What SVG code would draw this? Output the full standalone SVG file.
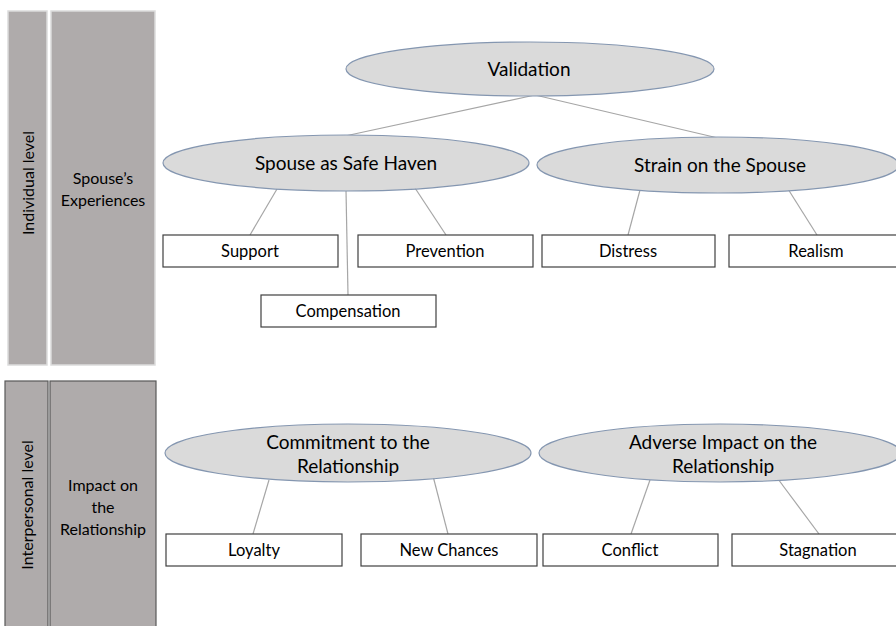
<svg xmlns="http://www.w3.org/2000/svg" width="896" height="626" viewBox="0 0 896 626">
<style>
.panelTop{fill:#afabab;stroke:#dcdcdc;stroke-width:1.5}
.panelBot{fill:#afabab;stroke:#595959;stroke-width:1.2}
.ell{fill:#dadada;stroke:#8496b0;stroke-width:1.2}
.box{fill:#ffffff;stroke:#404040;stroke-width:1.2}
.con{stroke:#a6a6a6;stroke-width:1.2;fill:none}
text{font-family:Lato,"Liberation Sans",sans-serif;fill:#000000;text-anchor:middle}
.t-ell{font-size:19px}
.t-box{font-size:16.5px}
.t-pan{font-size:16px}
</style>
<rect width="896" height="626" fill="#ffffff"/>
<g id="panel-individual">
<rect class="panelTop" x="8" y="11" width="39" height="354"/>
<text class="t-pan" transform="translate(28,183) rotate(-90)" x="0" y="6">Individual level</text>
</g>
<g id="panel-spouse-experiences">
<rect class="panelTop" x="51" y="11" width="104" height="354"/>
<text class="t-pan" x="103" y="184">Spouse’s</text>
<text class="t-pan" x="103" y="206">Experiences</text>
</g>
<g id="panel-interpersonal">
<rect class="panelBot" x="5" y="381" width="43" height="250"/>
<text class="t-pan" transform="translate(27,505) rotate(-90)" x="0" y="6">Interpersonal level</text>
</g>
<g id="panel-impact">
<rect class="panelBot" x="50" y="381" width="106" height="250"/>
<text class="t-pan" x="103" y="491">Impact on</text>
<text class="t-pan" x="103" y="513">the</text>
<text class="t-pan" x="103" y="535">Relationship</text>
</g>
<g id="connectors">
<line class="con" x1="535" y1="95" x2="345" y2="136"/>
<line class="con" x1="535" y1="95" x2="718" y2="138"/>
<line class="con" x1="277" y1="189" x2="250" y2="235"/>
<line class="con" x1="346" y1="190" x2="348" y2="295"/>
<line class="con" x1="415" y1="188" x2="446" y2="235"/>
<line class="con" x1="640" y1="190" x2="628" y2="235"/>
<line class="con" x1="788" y1="189" x2="817" y2="235"/>
<line class="con" x1="269" y1="480" x2="253" y2="534"/>
<line class="con" x1="433" y1="476" x2="448" y2="534"/>
<line class="con" x1="650" y1="480" x2="631" y2="534"/>
<line class="con" x1="778" y1="479" x2="819" y2="534"/>
</g>
<g id="validation">
<ellipse class="ell" cx="530" cy="69" rx="184" ry="27"/>
<text class="t-ell" x="529" y="76">Validation</text>
</g>
<g id="safe-haven">
<ellipse class="ell" cx="346" cy="163" rx="183" ry="28"/>
<text class="t-ell" x="346" y="170">Spouse as Safe Haven</text>
</g>
<g id="strain">
<ellipse class="ell" cx="718" cy="165" rx="181" ry="28"/>
<text class="t-ell" x="720" y="172">Strain on the Spouse</text>
</g>
<g id="support">
<rect class="box" x="163" y="235" width="175" height="32"/>
<text class="t-box" x="250" y="257">Support</text>
</g>
<g id="prevention">
<rect class="box" x="358" y="235" width="175" height="32"/>
<text class="t-box" x="445" y="257">Prevention</text>
</g>
<g id="compensation">
<rect class="box" x="261" y="295" width="175" height="32"/>
<text class="t-box" x="348" y="317">Compensation</text>
</g>
<g id="distress">
<rect class="box" x="542" y="235" width="173" height="32"/>
<text class="t-box" x="628" y="257">Distress</text>
</g>
<g id="realism">
<rect class="box" x="729" y="235" width="175" height="32"/>
<text class="t-box" x="816" y="257">Realism</text>
</g>
<g id="commitment">
<ellipse class="ell" cx="348" cy="453" rx="183" ry="29"/>
<text class="t-ell" x="348" y="449">Commitment to the</text>
<text class="t-ell" x="348" y="473">Relationship</text>
</g>
<g id="adverse">
<ellipse class="ell" cx="720" cy="453" rx="181" ry="29"/>
<text class="t-ell" x="723" y="449">Adverse Impact on the</text>
<text class="t-ell" x="723" y="473">Relationship</text>
</g>
<g id="loyalty">
<rect class="box" x="166" y="534" width="176" height="32"/>
<text class="t-box" x="254" y="556">Loyalty</text>
</g>
<g id="new-chances">
<rect class="box" x="361" y="534" width="176" height="32"/>
<text class="t-box" x="449" y="556">New Chances</text>
</g>
<g id="conflict">
<rect class="box" x="543" y="534" width="175" height="32"/>
<text class="t-box" x="630" y="556">Conflict</text>
</g>
<g id="stagnation">
<rect class="box" x="732" y="534" width="175" height="32"/>
<text class="t-box" x="818" y="556">Stagnation</text>
</g>
</svg>
